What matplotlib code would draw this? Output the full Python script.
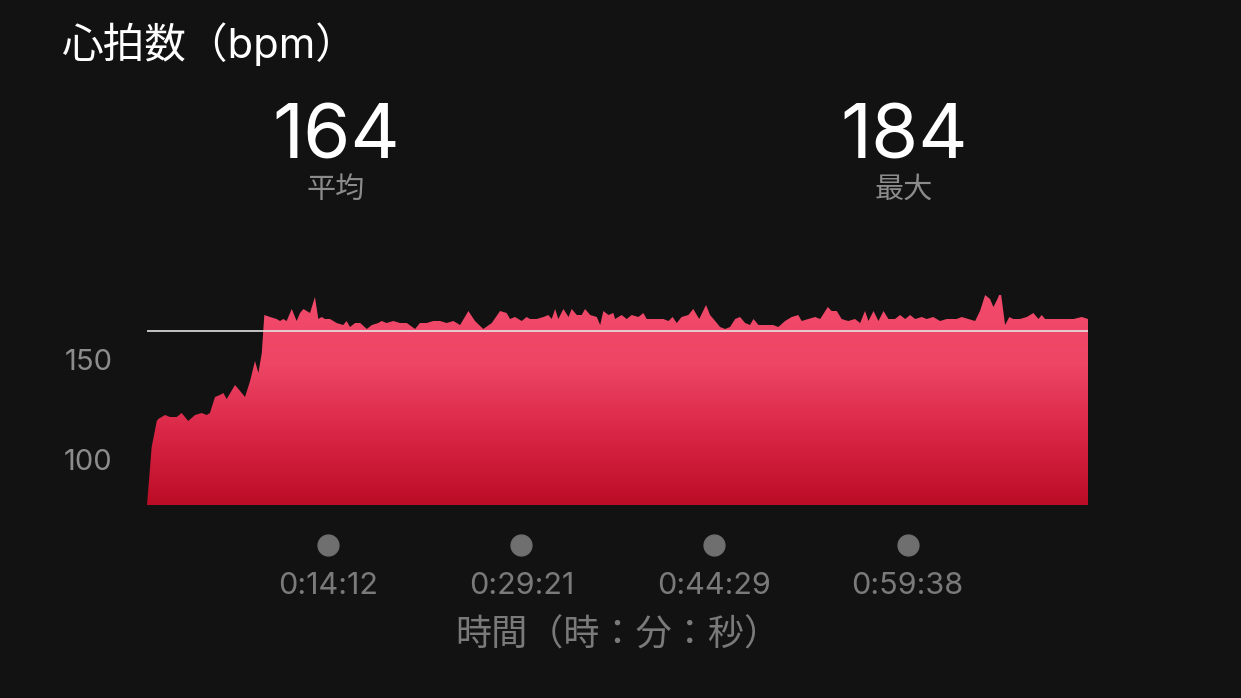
import matplotlib
matplotlib.use("Agg")
import matplotlib.pyplot as plt
import numpy as np
from matplotlib.colors import LinearSegmentedColormap
from matplotlib.transforms import blended_transform_factory

plt.rcParams['font.family'] = ['Inter', 'Noto Sans CJK JP', 'DejaVu Sans']

# heart rate samples
elapsed_s = [
    0, 22, 46, 53, 85, 108, 140, 163, 194, 226, 257, 281, 296, 320, 343, 359,
    375, 414, 438, 461, 485, 508, 524, 540, 552, 579, 610, 626, 641, 657, 681,
    704, 720, 736, 767, 790, 806, 822, 837, 861, 892, 923, 939, 955, 979, 1003,
    1034, 1058, 1088, 1104, 1127, 1159, 1190, 1222, 1261, 1284, 1316, 1347,
    1379, 1410, 1441, 1473, 1512, 1543, 1582, 1622, 1661, 1692, 1708, 1731,
    1763, 1786, 1802, 1833, 1865, 1888, 1904, 1920, 1935, 1959, 1983, 1998,
    2022, 2045, 2061, 2085, 2116, 2132, 2147, 2171, 2194, 2202, 2233, 2257,
    2280, 2312, 2335, 2351, 2390, 2429, 2453, 2473, 2492, 2515, 2547, 2570,
    2598, 2630, 2649, 2673, 2696, 2720, 2743, 2767, 2790, 2814, 2837, 2853,
    2877, 2900, 2924, 2946, 2970, 3002, 3033, 3064, 3080, 3111, 3143, 3167,
    3203, 3221, 3245, 3268, 3299, 3331, 3355, 3378, 3394, 3418, 3441, 3465,
    3488, 3519, 3543, 3567, 3590, 3614, 3645, 3668, 3699, 3731, 3762, 3786,
    3809, 3833, 3864, 3896, 3919, 3943, 3966, 3982, 4001, 4016, 4037, 4057,
    4075, 4107, 4139, 4170, 4194, 4209, 4225, 4257, 4296, 4327, 4359, 4398,
    4427,
]
bpm = [
    77, 106, 119, 120, 122, 121, 121, 123, 119, 122, 123, 122, 123, 131, 132, 133,
    130, 137, 134, 131, 139, 149, 143, 153, 172, 171, 170, 169, 170, 169, 175,
    169, 173, 175, 173, 181, 170, 171, 170, 170, 168, 167, 169, 166, 168, 168,
    165, 167, 168, 169, 168, 169, 168, 168, 165, 168, 168, 169,
    169, 168, 169, 167, 174, 169, 165, 168, 174, 173, 170, 171,
    169, 171, 170, 170, 171, 172, 170, 175, 170, 175, 171, 175,
    172, 172, 175, 172, 171, 167, 174, 172, 173, 170, 172, 170,
    172, 171, 173, 170, 170, 170, 169, 171, 168, 171, 172, 175,
    170, 177, 172, 169, 166, 165, 166, 170, 171, 168, 167, 170,
    167, 167, 167, 167, 166, 169, 171, 172, 169, 170, 171, 170,
    176, 174, 174, 170, 169, 170, 168, 174, 169, 174, 169, 174,
    170, 170, 172, 170, 172, 170, 171, 170, 171, 169, 170, 170,
    170, 171, 170, 169, 174, 182, 180, 176, 180, 184, 167, 171,
    170, 170, 171, 173, 170, 172, 170, 170, 170, 170, 170, 171,
    170,
]
avg_bpm = 164
max_bpm = 184
tick_s = [852, 1761, 2669, 3578]
tick_labels = ["0:14:12", "0:29:21", "0:44:29", "0:59:38"]
y_ticks = [100, 150]

BG = "#121212"
GRAY = "#8c8c8c"

fig = plt.figure(figsize=(12.41, 6.98), dpi=100, facecolor=BG)
ax = fig.add_axes([147 / 1241, 193 / 698, 941 / 1241, 226 / 698])
ax.set_facecolor(BG)

y_lo, y_hi = 77, 190
ax.set_xlim(0, elapsed_s[-1])
ax.set_ylim(y_lo, y_hi)

# area with vertical gradient clipped to the filled shape
poly = ax.fill_between(elapsed_s, bpm, y_lo, color="none", lw=0)
cmap = LinearSegmentedColormap.from_list("hr", ["#bb0d26", "#d92545", "#ee4565", "#f24a6b"])
grad = np.linspace(0, 1, 256).reshape(-1, 1)
img = ax.imshow(grad, cmap=cmap, origin="lower", aspect="auto",
                extent=[0, elapsed_s[-1], y_lo, 182], zorder=1)
img.set_clip_path(poly.get_paths()[0], transform=ax.transData)
ax.set_ylim(y_lo, y_hi)

ax.axhline(avg_bpm, color="#e6e6e6", lw=1.3, alpha=0.9, zorder=3)

for s in ax.spines.values():
    s.set_visible(False)

ax.set_yticks(y_ticks)
ax.set_yticklabels([str(v) for v in y_ticks])
ax.tick_params(axis="y", length=0, pad=25, labelsize=21, labelcolor=GRAY)

ax.set_xticks(tick_s)
ax.set_xticklabels(tick_labels)
ax.tick_params(axis="x", length=0, pad=48, labelsize=22, labelcolor="#7a7a7a")

trans = blended_transform_factory(ax.transData, ax.transAxes)
ax.plot(tick_s, [-40 / 226] * len(tick_s), "o", ms=15, color="#6f6f6f",
        transform=trans, clip_on=False, zorder=4)

ax.set_xlabel("時間（時：分：秒）", fontsize=26, color="#7a7a7a", labelpad=13)

fig.text(62 / 1241, 1 - 44 / 698, "心拍数（bpm）", fontsize=30, color="white",
         ha="left", va="center")
fig.text(336 / 1241, 1 - 131 / 698, str(avg_bpm), fontsize=55, color="white",
         ha="center", va="center_baseline")
fig.text(904 / 1241, 1 - 131 / 698, str(max_bpm), fontsize=55, color="white",
         ha="center", va="center_baseline")
fig.text(336 / 1241, 1 - 190 / 698, "平均", fontsize=21, color=GRAY,
         ha="center", va="center")
fig.text(904 / 1241, 1 - 190 / 698, "最大", fontsize=21, color=GRAY,
         ha="center", va="center")

fig.savefig("out.png", dpi=100, facecolor=BG)
